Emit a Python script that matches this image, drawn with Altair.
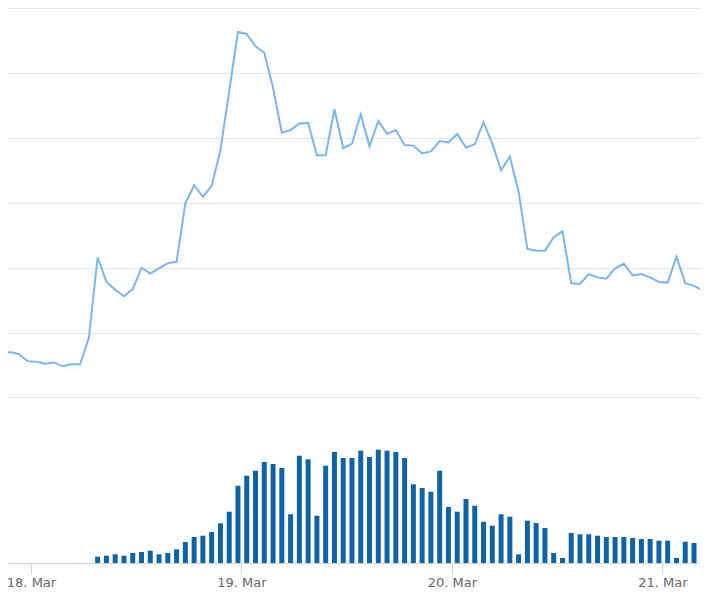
import altair as alt
import pandas as pd

# Hourly price series (first point 17 Mar 20:36 UTC)
line_start = "2020-03-17 20:36"
line_values = [
    106.5, 107.0, 106.7, 105.6, 105.5, 105.2, 105.4, 104.8, 105.1, 105.1,
    109.2, 121.6, 117.8, 116.6, 115.6, 116.7, 120.0, 119.1, 119.9, 120.7, 120.9,
    129.9, 132.7, 130.9, 132.6, 138.1, 147.2, 156.3, 156.0, 154.1, 153.1, 147.7,
    140.8, 141.2, 142.2, 142.3, 137.3, 137.3, 144.4, 138.4, 139.1, 143.6, 138.7,
    142.6, 140.6, 141.2, 138.9, 138.8, 137.6, 137.9, 139.5, 139.3, 140.6, 138.5,
    139.0, 142.4, 139.1, 135.0, 137.1, 131.7, 122.9, 122.6, 122.6, 124.7, 125.6,
    117.6, 117.5, 119.0, 118.5, 118.3, 119.9, 120.6, 118.8, 119.0, 118.5, 117.8,
    117.7, 121.7, 117.6, 117.2, 116.5, 118.3,
]

# Hourly volume series (first bar 18 Mar 07:36 UTC)
bar_start = "2020-03-18 07:36"
bar_values = [
    63, 73, 87, 73, 100, 110, 123, 87, 100, 137,
    210, 260, 273, 310, 397, 513, 773, 873, 923, 1010,
    990, 950, 487, 1073, 1037, 473, 973, 1110, 1050, 1050,
    1123, 1060, 1133, 1123, 1110, 1050, 787, 750, 713, 923,
    560, 513, 640, 573, 413, 373, 487, 463, 87, 423,
    400, 350, 100, 50, 300, 287, 287, 273, 260, 260,
    260, 250, 240, 240, 223, 223, 50, 213, 200, 187,
]

grid_values = [100, 110, 120, 130, 140, 150, 160]
tick_days = [18, 19, 20, 21]

fmt = "%Y-%m-%dT%H:%M:%SZ"
line_df = pd.DataFrame({
    "time": pd.date_range(line_start, periods=len(line_values), freq="h").strftime(fmt),
    "price": line_values,
})
bar_df = pd.DataFrame({
    "time": pd.date_range(bar_start, periods=len(bar_values), freq="h").strftime(fmt),
    "volume": bar_values,
})

x_scale = alt.Scale(
    type="utc",
    nice=False,
    padding=0,
    domain=[
        alt.DateTime(year=2020, month=3, date=17, hours=21, minutes=22, seconds=38, utc=True),
        alt.DateTime(year=2020, month=3, date=21, hours=4, minutes=17, seconds=0, utc=True),
    ],
)
x_axis = alt.Axis(
    values=[alt.DateTime(year=2020, month=3, date=d, utc=True) for d in tick_days],
    labelExpr="utcFormat(datum.value, '%d. %b')",
    title=None,
    grid=False,
    labelFont="DejaVu Sans",
    labelFontSize=13,
    labelColor="#666666",
    labelPadding=2,
    tickSize=11,
    tickColor="#ccd6eb",
    domainColor="#ccd6eb",
    labelFlush=False,
    labelOverlap=False,
)

line = alt.Chart(line_df).mark_line(color="#7cb5ec", strokeWidth=2, clip=True).encode(
    x=alt.X("time:T", scale=x_scale, axis=x_axis),
    y=alt.Y(
        "price:Q",
        scale=alt.Scale(domain=[74.5, 160], nice=False, zero=False),
        axis=alt.Axis(
            values=grid_values,
            grid=True,
            gridColor="#e6e6e6",
            gridWidth=1,
            labels=False,
            ticks=False,
            domain=False,
            title=None,
            minExtent=0,
            maxExtent=0,
        ),
    ),
)

bars = alt.Chart(bar_df).mark_bar(color="#0f62a6", width=5, clip=True).encode(
    x=alt.X("time:T", scale=x_scale, axis=x_axis),
    y=alt.Y("volume:Q", scale=alt.Scale(domain=[0, 5550], nice=False), axis=None),
)

chart = (
    alt.layer(line, bars)
    .resolve_scale(y="independent")
    .properties(
        width=692,
        height=555,
        autosize=alt.AutoSizeParams(type="none"),
        padding={"left": 0, "top": 0, "right": 0, "bottom": 26},
    )
    .configure_view(stroke=None)
)

chart.save("out.html", embed_options={"renderer": "svg", "actions": False})
